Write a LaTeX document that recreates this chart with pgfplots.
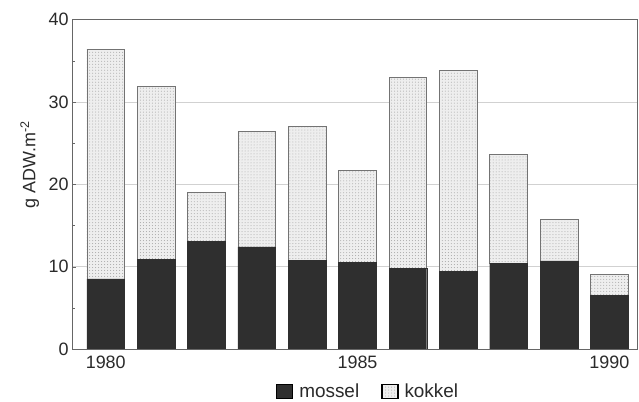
\documentclass[border=0pt]{standalone}
\usepackage{fontspec}
\setmainfont{Liberation Sans}
\usepackage{pgfplots}
\pgfplotsset{compat=1.18}
\usetikzlibrary{patterns}
\definecolor{moss}{HTML}{2F2F2F}
\definecolor{kok}{HTML}{EEEEEE}
\definecolor{txt}{HTML}{2A2A2A}
\begin{document}
\begin{tikzpicture}
\useasboundingbox (-72bp,-53bp) rectangle (567bp,349bp);
\begin{axis}[
  at={(0,0)}, anchor=south west,
  scale only axis, width=565bp, height=329.5bp,
  ybar stacked, bar width=37.7bp,
  xmin=1979.33, xmax=1990.55,
  ymin=0, ymax=40,
  xtick={1980,1985,1990},
  ytick={0,10,20,30,40},
  minor ytick={5,15,25,35},
  ytick pos=left, xtick pos=bottom,
  x tick style={draw=none},
  y tick style={color=black!60},
  major tick length=4bp, minor tick length=3bp,
  axis line style={color=black!60, line width=0.7pt},
  ymajorgrids, grid style={color=black!18, line width=0.6pt},
  /pgf/number format/assume math mode=true,
  /pgf/number format/1000 sep={},
  tick label style={font=\fontsize{18}{20}\selectfont, color=txt},
  ylabel={g ADW.m\textsuperscript{-2}},
  ylabel style={font=\fontsize{18}{20}\selectfont, color=txt, at={(axis description cs:-0.075,0.56)}, anchor=center},
  legend style={at={(axis description cs:0.524,-0.129)}, anchor=center, draw=none, fill=none,
    legend columns=2, font=\fontsize{19}{21}\selectfont, text=txt,
    /tikz/every odd column/.append style={column sep=4bp},
    /tikz/every even column/.append style={column sep=20bp}},
  legend image code/.code={\draw[#1, draw=black, line width=1.3pt] (0bp,-7bp) rectangle (16bp,7bp);},
  xticklabel style={yshift=-3bp},
]
\addplot[fill=moss, draw=moss] coordinates {
 (1980,8.5) (1981,10.9) (1982,13.1) (1983,12.4) (1984,10.8) (1985,10.5)
 (1986,9.8) (1987,9.4) (1988,10.4) (1989,10.7) (1990,6.5)};
\addlegendentry{mossel}
\addplot[fill=kok, draw=black!55, line width=0.6pt, postaction={pattern=dots, pattern color=black!35}] coordinates {
 (1980,27.9) (1981,21.0) (1982,5.9) (1983,14.0) (1984,16.2) (1985,11.2)
 (1986,23.2) (1987,24.4) (1988,13.2) (1989,5.0) (1990,2.6)};
\addlegendentry{kokkel}
\end{axis}
\end{tikzpicture}
\end{document}
